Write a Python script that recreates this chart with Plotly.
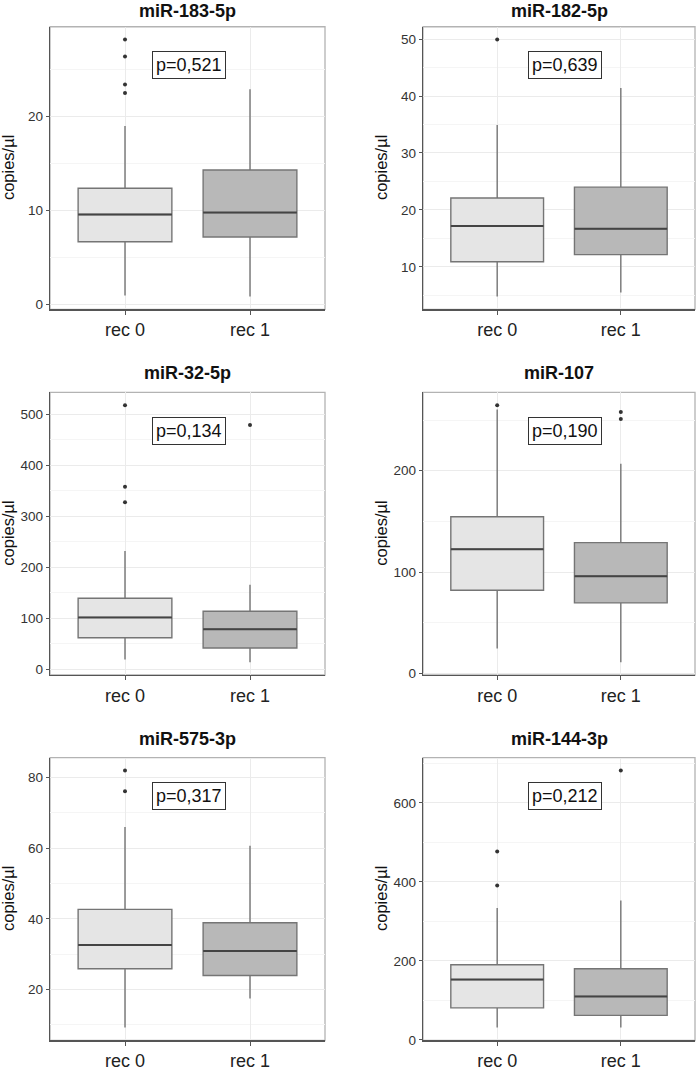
import plotly.graph_objects as go

# ---------------- data ----------------
genes = ["miR-183-5p", "miR-182-5p", "miR-32-5p", "miR-107", "miR-575-3p", "miR-144-3p"]
p_labels = ["p=0,521", "p=0,639", "p=0,134", "p=0,190", "p=0,317", "p=0,212"]
groups = ["rec 0", "rec 1"]

# per gene: [rec 0, rec 1]
lower_fence = [[0.9, 0.8], [4.8, 5.5], [19.5, 14.3], [24.5, 11.0], [9.25, 17.5], [31.0, 31.0]]
q1 = [[6.65, 7.15], [10.9, 12.15], [62.0, 42.0], [82.0, 69.5], [25.9, 24.0], [81.0, 62.0]]
median = [[9.55, 9.75], [17.2, 16.7], [102.0, 79.0], [122.5, 95.8], [32.6, 30.9], [152.5, 110.0]]
q3 = [[12.35, 14.3], [22.1, 24.0], [139.5, 114.0], [154.5, 129.0], [42.7, 38.9], [190.0, 180.0]]
upper_fence = [[19.0, 22.9], [34.9, 41.4], [232.0, 166.0], [260.5, 207.0], [66.0, 60.7], [334.0, 353.0]]
outliers = [
    [[22.5, 23.4, 26.4, 28.2], []],
    [[49.9], []],
    [[328.0, 358.0, 518.0], [479.0]],
    [[264.7], [251.0, 258.0]],
    [[76.1, 82.0], []],
    [[391.0, 477.0], [682.0]],
]
major_dtick = [10, 10, 100, 100, 20, 200]

# ---------------- style ----------------
W, H = 697, 1071
col_px = [(50, 325), (423, 695)]
row_px = [(27, 312), (395.7, 680.7), (764, 1049.3)]
title_gap = [16, 19.5, 19]
fills = ["#e5e5e5", "#b8b8b8"]
box_line = "#757575"
median_line = "#444444"
FONT = "Liberation Sans, Arial, sans-serif"

fig = go.Figure()
layout = dict(
    width=W, height=H, margin=dict(l=0, r=0, t=0, b=0),
    paper_bgcolor="white", plot_bgcolor="white",
    showlegend=False, boxmode="overlay",
    font=dict(family=FONT, color="#333333"),
)
annotations = []
shapes = []

for i, gene in enumerate(genes):
    r, c = divmod(i, 2)
    n = i + 1
    xa = "x" if n == 1 else f"x{n}"
    ya = "y" if n == 1 else f"y{n}"
    xkey = "xaxis" if n == 1 else f"xaxis{n}"
    ykey = "yaxis" if n == 1 else f"yaxis{n}"

    x0p, x1p = col_px[c]
    y0p, y1p = row_px[r]

    for g in range(2):
        fig.add_trace(go.Box(
            x=[groups[g]], q1=[q1[i][g]], median=[median[i][g]], q3=[q3[i][g]],
            lowerfence=[lower_fence[i][g]], upperfence=[upper_fence[i][g]],
            width=0.75, whiskerwidth=0, fillcolor=fills[g],
            line=dict(color=box_line, width=1.4), boxpoints=False,
            xaxis=xa, yaxis=ya, hoverinfo="skip",
        ))
        # darker median line drawn as a flat box at the median
        fig.add_trace(go.Box(
            x=[groups[g]], q1=[median[i][g]], median=[median[i][g]], q3=[median[i][g]],
            lowerfence=[median[i][g]], upperfence=[median[i][g]],
            width=0.75, whiskerwidth=0, fillcolor="rgba(0,0,0,0)",
            line=dict(color=median_line, width=2), boxpoints=False,
            xaxis=xa, yaxis=ya, hoverinfo="skip",
        ))
        if outliers[i][g]:
            fig.add_trace(go.Scatter(
                x=[groups[g]] * len(outliers[i][g]), y=outliers[i][g], mode="markers",
                marker=dict(size=4, color="#333333"),
                xaxis=xa, yaxis=ya, hoverinfo="skip",
            ))

    vals = lower_fence[i] + upper_fence[i] + outliers[i][0] + outliers[i][1]
    lo, hi = min(vals), max(vals)
    pad = 0.05 * (hi - lo)
    dt = major_dtick[i]

    layout[xkey] = dict(
        domain=[x0p / W, x1p / W], anchor=ya,
        type="category", categoryorder="array", categoryarray=groups,
        range=[-0.6, 1.6], showgrid=True, gridcolor="#ebebeb", gridwidth=1,
        showline=True, linecolor="#555555", linewidth=1.3,
        ticks="outside", ticklen=4, tickcolor="#555555", tickwidth=1,
        tickfont=dict(size=18, color="#222222", family=FONT),
        zeroline=False, fixedrange=True,
    )
    layout[ykey] = dict(
        domain=[1 - y1p / H, 1 - y0p / H], anchor=xa,
        range=[lo - pad, hi + pad], tick0=0, dtick=dt,
        showgrid=True, gridcolor="#ebebeb", gridwidth=1,
        minor=dict(dtick=dt / 2, tick0=0, showgrid=True, gridcolor="#f5f5f5", gridwidth=1),
        showline=True, linecolor="#555555", linewidth=1.3,
        ticks="outside", ticklen=3, tickcolor="#555555", tickwidth=1,
        tickfont=dict(size=13.5, color="#333333", family=FONT),
        zeroline=False, fixedrange=True,
    )

    # light panel border (top/right)
    shapes.append(dict(
        type="rect", xref=f"{xa} domain", yref=f"{ya} domain",
        x0=0, x1=1, y0=0, y1=1, line=dict(color="#b3b3b3", width=1.3), layer="below",
    ))

    ph = y1p - y0p
    pw = x1p - x0p
    # panel title
    annotations.append(dict(
        text=f"<b>{gene}</b>", xref=f"{xa} domain", yref=f"{ya} domain",
        x=0.5, y=1 + title_gap[r] / ph, xanchor="center", yanchor="middle", showarrow=False,
        font=dict(size=18, color="#111111", family=FONT),
    ))
    # y-axis title
    annotations.append(dict(
        text="copies/µl", xref=f"{xa} domain", yref=f"{ya} domain",
        x=-42 / pw, y=0.5, xanchor="center", yanchor="middle", textangle=-90,
        showarrow=False, font=dict(size=16.5, color="#111111", family=FONT),
    ))
    # p-value label in box
    annotations.append(dict(
        text=p_labels[i], xref=f"{xa} domain", yref=f"{ya} domain",
        x=0.505 if c == 0 else 0.523, y=0.863, xanchor="center", yanchor="middle",
        showarrow=False, bgcolor="white", bordercolor="#333333", borderwidth=1, borderpad=3,
        font=dict(size=18, color="#111111", family=FONT),
    ))

layout["annotations"] = annotations
layout["shapes"] = shapes
fig.update_layout(**layout)
fig.write_html(
    "out.html",
    config={"displayModeBar": False, "staticPlot": True},
    post_script="document.body.style.margin='0';document.body.style.overflow='hidden';",
)
